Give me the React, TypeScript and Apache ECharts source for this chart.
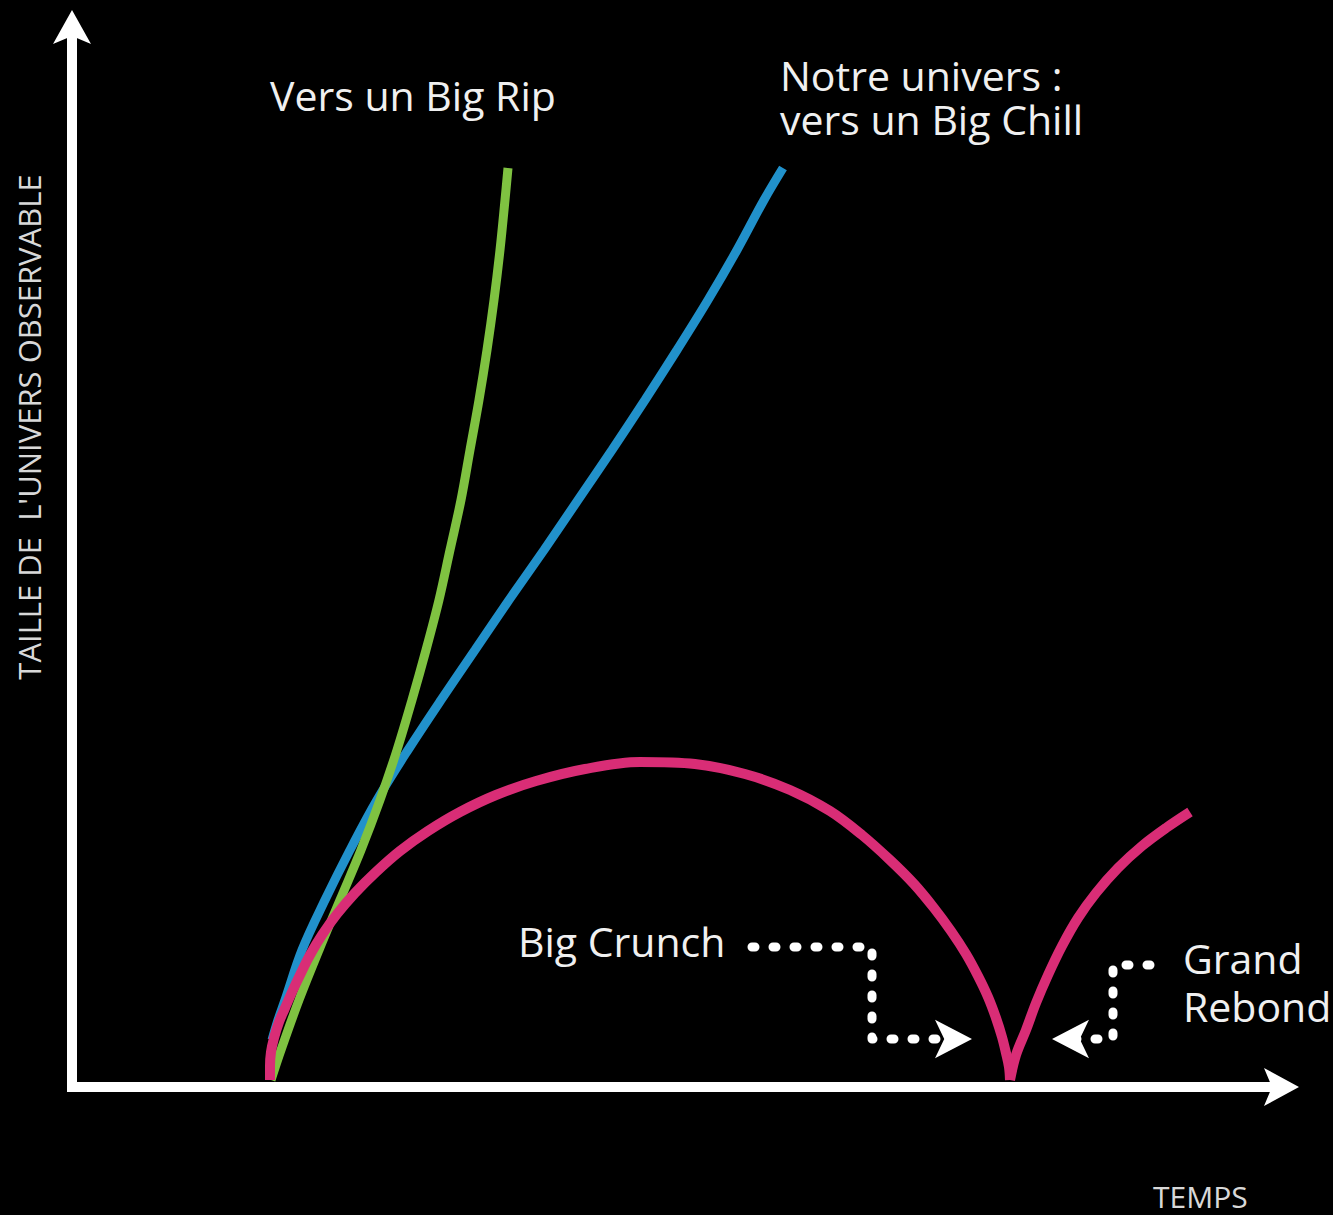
import React, { useEffect, useRef } from "react";
import * as echarts from "echarts";

const W = 1333;
const H = 1215;

// x = temps, y = taille de l'univers observable (arbitrary units, origin at the axes' corner)
const bigRip: [number, number][] = [
  [199, 7], [209, 37], [227, 87], [247, 137], [268, 187], [289, 237], [308, 287],
  [325, 337], [340, 387], [354, 437], [367, 487], [378, 537], [389, 587], [398, 637],
  [407, 687], [415, 737], [422, 787], [428, 837], [433, 887], [436, 919],
];

const bigChill: [number, number][] = [
  [200, 47], [206, 67], [213, 87], [230, 137], [253, 187], [278, 237], [305, 287],
  [336, 337], [369, 387], [403, 437], [437, 487], [472, 537], [506, 587], [540, 637],
  [573, 687], [605, 737], [636, 787], [665, 837], [692, 887], [711, 919],
];

const bigCrunch: [number, number][] = [
  [198, 7], [198, 21], [199, 35], [202, 49], [207, 65], [213, 79], [220, 95],
  [228, 112], [238, 132], [250, 152], [265, 173], [283, 194], [304, 215], [328, 236],
  [356, 256], [388, 275], [424, 292], [464, 306], [513, 318], [568, 325], [623, 323],
  [673, 313], [718, 297], [758, 276], [790, 252], [818, 227], [842, 203], [862, 179],
  [879, 156], [894, 133], [906, 111], [916, 90], [924, 69], [930, 50], [934, 34],
  [937, 20], [938, 7],
];

const rebound: [number, number][] = [
  [938, 7], [944, 32], [954, 57], [964, 84], [976, 112], [990, 141], [1006, 169],
  [1024, 194], [1046, 219], [1070, 241], [1094, 259], [1118, 275],
];

// dotted pointers (annotations)
const crunchPointer: [number, number][] = [[680, 140], [800, 140], [800, 48], [878, 48]];
const crunchArrow: [number, number][] = [[900, 48]];
const reboundPointer: [number, number][] = [[1078, 122], [1041, 122], [1041, 48], [1000, 48]];
const reboundArrow: [number, number][] = [[980, 48]];

const X_MAX = 1209;
const Y_MAX = 1059;

const FONT = '"Open Sans", "DejaVu Sans", sans-serif';
const LABEL = "#f0f0f0";
const AXIS_TEXT = "#d8d8d8";

export default function App() {
  const ref = useRef<HTMLDivElement>(null);

  useEffect(() => {
    document.body.style.margin = "0";
    document.body.style.background = "#000";
    const chart = echarts.init(ref.current!, undefined, { renderer: "svg", width: W, height: H });

    const axisCommon = {
      type: "value" as const,
      min: 0,
      axisLine: {
        show: true,
        onZero: false,
        lineStyle: { color: "#ffffff", width: 10, cap: "square" },
      },
      axisTick: { show: false },
      axisLabel: { show: false },
      splitLine: { show: false },
    };

    const dotted = (data: [number, number][]) => ({
      type: "line",
      data,
      symbol: "none",
      silent: true,
      z: 3,
      lineStyle: { color: "#ffffff", width: 9, type: [3, 18], cap: "round", join: "round", opacity: 1 },
    });

    const arrowHead = (data: [number, number][], rotate: number) => ({
      type: "scatter",
      data,
      symbol: "arrow",
      symbolSize: [29, 37],
      symbolRotate: rotate,
      silent: true,
      z: 4,
      itemStyle: { color: "#ffffff", opacity: 1 },
    });

    const curve = (data: [number, number][], color: string, width: number) => ({
      type: "line",
      data,
      symbol: "none",
      smooth: 0.35,
      silent: true,
      z: 2,
      lineStyle: { color, width, cap: "butt", opacity: 1 },
    });

    const text = (x: number, y: number, t: string, size: number, fill: string, lineHeight?: number) => ({
      type: "text",
      x,
      y,
      silent: true,
      style: {
        text: t,
        font: `${size}px ${FONT}`,
        fill,
        verticalAlign: "middle",
        align: "left",
        ...(lineHeight ? { lineHeight } : {}),
      },
    });

    chart.setOption({
      animation: false,
      backgroundColor: "#000000",
      grid: { left: 72, top: 28, right: 52, bottom: 128, containLabel: false, outerBoundsMode: "none" },
      xAxis: { ...axisCommon, max: X_MAX },
      yAxis: { ...axisCommon, max: Y_MAX },
      series: [
        curve(bigChill, "#2191cb", 9),
        curve(bigRip, "#7fc241", 9),
        curve(bigCrunch, "#d92d76", 10),
        curve(rebound, "#d92d76", 10),
        dotted(crunchPointer),
        dotted(reboundPointer),
        arrowHead(crunchArrow, -90),
        arrowHead(reboundArrow, 90),
      ],
      graphic: [
        // axis arrowheads
        {
          type: "polygon",
          silent: true,
          z: 20,
          shape: { points: [[72, 10], [91, 44], [72, 36], [53, 44]] },
          style: { fill: "#ffffff" },
        },
        {
          type: "polygon",
          silent: true,
          z: 20,
          shape: { points: [[1299, 1087], [1264, 1106], [1272, 1087], [1264, 1068]] },
          style: { fill: "#ffffff" },
        },
        text(270, 95, "Vers un Big Rip", 41, LABEL),
        text(780, 97, "Notre univers :\nvers un Big Chill", 41, LABEL, 44),
        text(518, 941, "Big Crunch", 41, LABEL),
        text(1183, 982, "Grand\nRebond", 41, LABEL, 48),
        text(1153, 1196, "TEMPS", 30, AXIS_TEXT),
        {
          type: "text",
          x: 29,
          y: 427,
          rotation: Math.PI / 2,
          silent: true,
          style: {
            text: "TAILLE DE  L'UNIVERS OBSERVABLE",
            font: `31px ${FONT}`,
            fill: AXIS_TEXT,
            align: "center",
            verticalAlign: "middle",
          },
        },
      ],
    });

    return () => chart.dispose();
  }, []);

  return <div ref={ref} style={{ width: W, height: H, background: "#000" }} />;
}
